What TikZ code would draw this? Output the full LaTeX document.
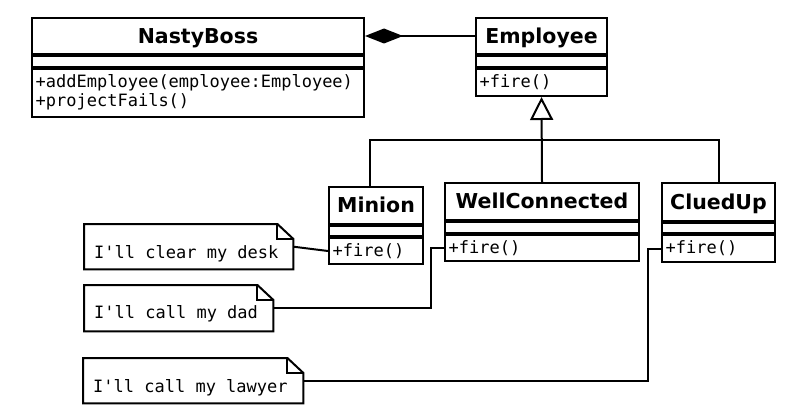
\documentclass[tikz,border=0pt]{standalone}
\usepackage{fontspec}
\usetikzlibrary{arrows.meta,calc}
\newfontfamily\umlsans{DejaVu Sans}
\newfontfamily\umlmono{DejaVu Sans Mono}
\tikzset{
  uml/.style={draw, line width=2pt, rectangle, inner sep=0pt},
  clsname/.style={uml, font=\umlsans\bfseries\fontsize{20.5}{24}\selectfont, text height=14.9pt, text depth=0pt, anchor=north west},
  clspart/.style={uml, anchor=north},
  optext/.style={font=\umlmono\fontsize{17}{19}\selectfont, inner sep=0pt, anchor=west, align=left},
  notebox/.style={inner sep=0pt, anchor=north west},
  noteshape/.style={line width=2pt, line join=miter},
  notetext/.style={font=\umlmono\fontsize{17}{19}\selectfont, inner sep=0pt, anchor=base west},
  wire/.style={line width=2pt},
}
\begin{document}
\begin{tikzpicture}[x=1pt,y=-1pt]
\useasboundingbox[fill=white] (0,0) rectangle (800,417);

% NastyBoss
\node[clsname, minimum width=332pt, minimum height=36pt] (nasty) at (31,17) {NastyBoss};
\node[clspart, minimum width=332pt, minimum height=11pt] (nastyA) at (nasty.south) {};
\node[clspart, minimum width=332pt, minimum height=48pt] (nastyO) at (nastyA.south) {};
\node[optext] (nastyT) at ([xshift=4.5pt,yshift=1pt]nastyO.west) {+addEmployee(employee:Employee)\\+projectFails()};

% Employee
\node[clsname, minimum width=131pt, minimum height=36pt] (emp) at (475,17) {Employee};
\node[clspart, minimum width=131pt, minimum height=11pt] (empA) at (emp.south) {};
\node[clspart, minimum width=131pt, minimum height=27pt] (empO) at (empA.south) {};
\node[optext] (empT) at ([xshift=4.5pt]empO.west) {+fire()};

% Minion
\node[clsname, minimum width=94pt, minimum height=37pt] (min) at (328,186) {Minion};
\node[clspart, minimum width=94pt, minimum height=10pt] (minA) at (min.south) {};
\node[clspart, minimum width=94pt, minimum height=26pt] (minO) at (minA.south) {};
\node[optext] (minT) at ([xshift=4.5pt]minO.west) {+fire()};

% WellConnected
\node[clsname, minimum width=194pt, minimum height=37pt] (wc) at (444,182) {WellConnected};
\node[clspart, minimum width=194pt, minimum height=11pt] (wcA) at (wc.south) {};
\node[clspart, minimum width=194pt, minimum height=26pt] (wcO) at (wcA.south) {};
\node[optext] (wcT) at ([xshift=4.5pt]wcO.west) {+fire()};

% CluedUp
\node[clsname, minimum width=113pt, minimum height=38pt] (cu) at (661,182) {CluedUp};
\node[clspart, minimum width=113pt, minimum height=10pt] (cuA) at (cu.south) {};
\node[clspart, minimum width=113pt, minimum height=27pt] (cuO) at (cuA.south) {};
\node[optext] (cuT) at ([xshift=4.5pt]cuO.west) {+fire()};

% Notes
\node[notebox, minimum width=209pt, minimum height=45pt] (n1) at (84,224) {};
\node[notebox, minimum width=189pt, minimum height=46pt] (n2) at (84,285) {};
\node[notebox, minimum width=220pt, minimum height=45pt] (n3) at (83,358) {};
\foreach \n in {n1,n2,n3}{
  \draw[noteshape] (\n.north west) -- ([xshift=-16pt]\n.north east) -- ([yshift=-15pt]\n.north east) -- (\n.south east) -- (\n.south west) -- cycle;
  \draw[noteshape] ([xshift=-16pt]\n.north east) -- ([xshift=-16pt,yshift=-15pt]\n.north east) -- ([yshift=-15pt]\n.north east);
}
\node[notetext] (n1t) at ([xshift=10pt,yshift=11pt]n1.south west) {I'll clear my desk};
\node[notetext] (n2t) at ([xshift=10pt,yshift=13pt]n2.south west) {I'll call my dad};
\node[notetext] (n3t) at ([xshift=10pt,yshift=11pt]n3.south west) {I'll call my lawyer};

% Composition
\draw[wire, -{Diamond[length=38pt,width=15pt]}] (emp.west) -- (nasty.east);

% Generalization
\coordinate (j) at (541,140);
\draw[wire, -{Triangle[open,length=23pt,width=23pt]}] (wc.north) -- (empO.south);
\draw[wire] ([xshift=-6pt]min.north) |- (j) -| (cu.north);

% Note links
\draw[wire] (n1.east) -- (minO.west);
\draw[wire] (n2.east) -| ([xshift=-13pt]wcO.west) -- (wcO.west);
\draw[wire] (n3.east) -| ([xshift=-13pt]cuO.west) -- (cuO.west);
\end{tikzpicture}
\end{document}
